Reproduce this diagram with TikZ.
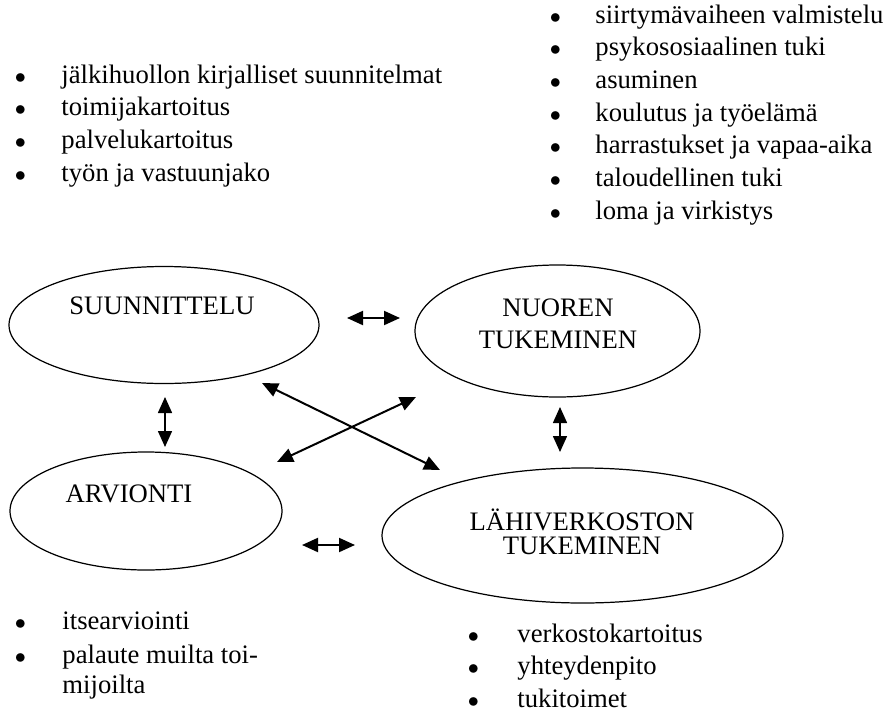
\documentclass[tikz,border=0pt]{standalone}
\usepackage{fontspec}
\setmainfont{Liberation Serif}
\usetikzlibrary{shapes.geometric}
\usetikzlibrary{arrows.meta}
\newcommand{\kohta}[2]{\makebox[#1][l]{\makebox[0pt][c]{\fontsize{10}{10}\selectfont$\bullet$}}#2}

\begin{document}
\begin{tikzpicture}[x=0.45pt, y=-0.45pt,
			kupla/.style={draw, ellipse, line width=0.55pt, inner sep=0pt},
			otsikko/.style={anchor=base, inner sep=0pt, font=\fontsize{12}{14.4}\selectfont},
			lista/.style={anchor=base west, inner sep=0pt, font=\fontsize{12}{14.7}\selectfont},
			nuoli/.style={{Triangle[length=7.2pt, width=6.3pt]}-{Triangle[length=7.2pt, width=6.3pt]}, line width=0.9pt}]
			\useasboundingbox (0,0) rectangle (891,713);
			\node[kupla, minimum width=139.5pt, minimum height=52.65pt](suunnittelu) at (164,325){};
			\node[kupla, minimum width=128.25pt, minimum height=59.4pt](nuori) at (557.5,331){};
			\node[kupla, minimum width=122.4pt, minimum height=53.1pt](arviointi) at (146,511){};
			\node[kupla, minimum width=180.45pt, minimum height=60.75pt](verkosto) at (582.5,535.5){};
			\node[otsikko](suunnittelutxt) at (162,314){SUUNNITTELU};
			\node[otsikko](nuoritxt) at (558,316){NUOREN};
			\node[otsikko](nuoritxtb) at (558,348){TUKEMINEN};
			\node[otsikko](arviointitxt) at (129,502){ARVIONTI};
			\node[otsikko](verkostotxt) at (582,530){LÄHIVERKOSTON};
			\node[otsikko](verkostotxtb) at (582,554){TUKEMINEN};
			\node[lista](suunnittelulista) at (20,83){\begin{tabular}[t]{@{}l@{}}
				\kohta{18.45pt}{jälkihuollon kirjalliset suunnitelmat}\\
				\kohta{18.45pt}{toimijakartoitus}\\
				\kohta{18.45pt}{palvelukartoitus}\\
				\kohta{18.45pt}{työn ja vastuunjako}
			\end{tabular}};
			\node[lista](nuorilista) at (555,23){\begin{tabular}[t]{@{}l@{}}
				\kohta{18pt}{siirtymävaiheen valmistelu}\\
				\kohta{18pt}{psykososiaalinen tuki}\\
				\kohta{18pt}{asuminen}\\
				\kohta{18pt}{koulutus ja työelämä}\\
				\kohta{18pt}{harrastukset ja vapaa-aika}\\
				\kohta{18pt}{taloudellinen tuki}\\
				\kohta{18pt}{loma ja virkistys}
			\end{tabular}};
			\node[lista](arviointilista) at (20,629){\begin{tabular}[t]{@{}l@{}}
				\kohta{18.9pt}{itsearviointi}\\[1pt]
				\kohta{18.9pt}{palaute muilta toi-}\\[-1.2pt]
				\makebox[18.9pt]{}mijoilta
			\end{tabular}};
			\node[lista](verkostolista) at (473,642){\begin{tabular}[t]{@{}l@{}}
				\kohta{19.8pt}{verkostokartoitus}\\
				\kohta{19.8pt}{yhteydenpito}\\
				\kohta{19.8pt}{tukitoimet}
			\end{tabular}};
			\coordinate (ylavasen) at (347,318);
			\coordinate (ylaoikea) at (400,318);
			\coordinate (vasenyla) at (165,397);
			\coordinate (vasenala) at (165,447);
			\coordinate (oikeayla) at (560,407);
			\coordinate (oikeaala) at (560,452);
			\coordinate (alavasen) at (302,545);
			\coordinate (alaoikea) at (355,545);
			\coordinate (ristia) at (262,383);
			\coordinate (ristib) at (440,470);
			\coordinate (ristic) at (416,397);
			\coordinate (ristid) at (277,462);
			\path[draw, nuoli] (ylavasen) -- (ylaoikea);
			\path[draw, nuoli, line width=0.7pt] (vasenyla) -- (vasenala);
			\path[draw, nuoli, line width=0.7pt] (oikeayla) -- (oikeaala);
			\path[draw, nuoli] (alavasen) -- (alaoikea);
			\path[draw, nuoli] (ristia) -- (ristib);
			\path[draw, nuoli] (ristic) -- (ristid);
	\end{tikzpicture}
\end{document}
